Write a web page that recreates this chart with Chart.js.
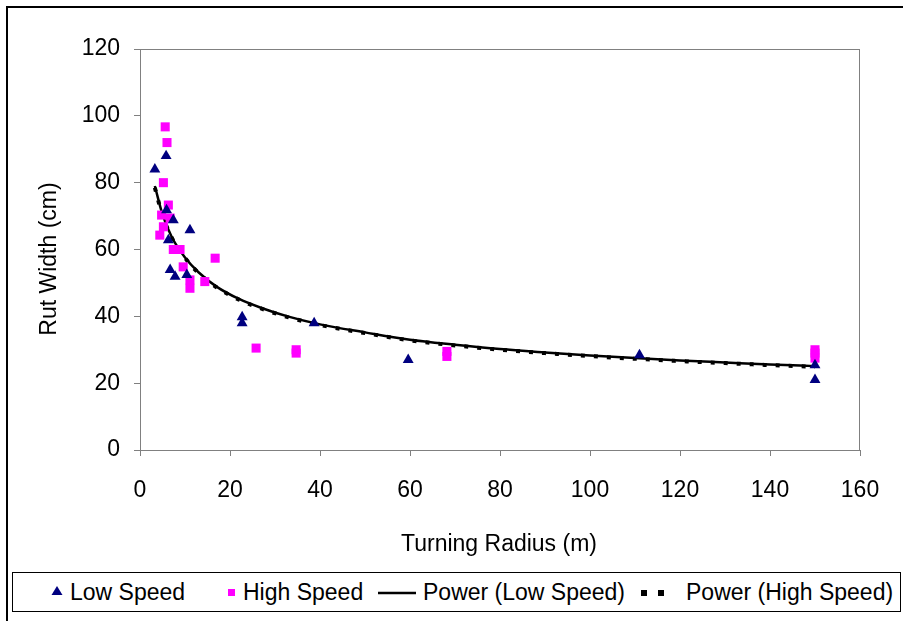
<!DOCTYPE html>
<html lang="en">
<head>
    <meta charset="UTF-8">
    <title>Rut Width vs Turning Radius</title>
    <script src="https://cdn.jsdelivr.net/npm/chart.js"></script>
    <style>
        body { margin: 0; background: #fff; font-family: "Liberation Sans", Arial, sans-serif; }
        #wrap { position: relative; width: 903px; height: 621px; overflow: hidden; }
        #frame { position: absolute; left: 6px; top: 6px; width: 920px; height: 640px; border: 2px solid #000; }
        canvas { position: absolute; left: 0; top: 0; }
        #legend { position: absolute; left: 12px; top: 572px; width: 887px; height: 38px; border: 1px solid #000; background: #fff; font-size: 23px; color: #000; }
        #legend span { position: absolute; top: 6px; white-space: nowrap; }
        #legend svg { position: absolute; top: 0; left: 0; }
    </style>
</head>
<body>
<div id="wrap">
    <div id="frame"></div>
    <canvas id="chart" width="903" height="621"></canvas>
    <div id="legend">
        <svg width="887" height="38">
            <polygon points="44,13 49.5,22 38.5,22" fill="#000080"/>
            <rect x="215" y="16" width="7" height="7" fill="#FF00FF"/>
            <line x1="365" y1="20" x2="403" y2="20" stroke="#000" stroke-width="2.5"/>
            <rect x="628" y="17" width="6" height="6" fill="#000"/>
            <rect x="645" y="17" width="6" height="6" fill="#000"/>
        </svg>
        <span style="left:57px">Low Speed</span>
        <span style="left:230px">High Speed</span>
        <span style="left:410px">Power (Low Speed)</span>
        <span style="left:673px">Power (High Speed)</span>
    </div>
</div>
<script>
    // scatter data
    const lowX = [3.3, 5.8, 5.9, 7.4, 11.1, 6.3, 6.7, 7.8, 10.4, 22.7, 22.7, 38.7, 59.6, 111, 150, 150];
    const lowY = [84, 88, 71.8, 68.8, 65.8, 62.8, 53.9, 51.9, 52.4, 39.8, 38, 38, 27, 28.4, 25.4, 21];

    const highX = [5.6, 6, 5.2, 6.3, 4.8, 6.7, 5.2, 4.4, 7.4, 8.9, 9.6, 11.1, 11.1, 14.4, 16.7, 25.8, 34.7, 34.7, 68.2, 68.2, 150, 150, 150];
    const highY = [96.7, 92, 80, 73.3, 70.3, 69.4, 66.8, 64.3, 60, 60, 54.8, 50.9, 48.4, 50.4, 57.4, 30.5, 30, 29, 29.5, 28, 30, 29, 27.5];

    // trend curves, points
    const trendX = [3.3, 5, 7, 10, 13, 17, 22, 27, 33, 40, 50, 60, 70, 80, 90, 100, 110, 120, 130, 140, 150];
    const trendLowY = [79, 70.5, 63.9, 57.6, 53.2, 48.9, 45.2, 42.5, 39.9, 37.6, 35.2, 33.0, 31.5, 30.2, 29.2, 28.3, 27.5, 26.8, 26.2, 25.6, 25.1];
    const trendHighY = [78.5, 70.2, 63.7, 57.5, 53.0, 48.7, 45.0, 42.3, 39.7, 37.4, 35.0, 32.8, 31.3, 30.0, 29.0, 28.1, 27.3, 26.6, 26.0, 25.4, 24.9];

    const xTicks = [0, 20, 40, 60, 80, 100, 120, 140, 160];
    const yTicks = [0, 20, 40, 60, 80, 100, 120];

    const pts = (xs, ys) => xs.map((x, i) => ({ x: x, y: ys[i] }));
    const fontFamily = '"Liberation Sans", Arial, sans-serif';
    const tickFont = { family: fontFamily, size: 23 };

    new Chart(document.getElementById('chart').getContext('2d'), {
        type: 'scatter',
        data: {
            datasets: [
                {
                    label: 'Power (High Speed)',
                    data: pts(trendX, trendHighY),
                    showLine: true,
                    borderColor: '#000',
                    borderWidth: 4,
                    borderDash: [4, 9],
                    pointRadius: 0,
                    cubicInterpolationMode: 'monotone',
                    order: 3
                },
                {
                    label: 'Power (Low Speed)',
                    data: pts(trendX, trendLowY),
                    showLine: true,
                    borderColor: '#000',
                    borderWidth: 2.5,
                    pointRadius: 0,
                    cubicInterpolationMode: 'monotone',
                    order: 2
                },
                {
                    label: 'High Speed',
                    data: pts(highX, highY),
                    pointStyle: 'rect',
                    pointRadius: 6.4,
                    backgroundColor: '#FF00FF',
                    borderColor: '#FF00FF',
                    borderWidth: 0,
                    order: 1
                },
                {
                    label: 'Low Speed',
                    data: pts(lowX, lowY),
                    pointStyle: 'triangle',
                    pointRadius: 6.3,
                    backgroundColor: '#000080',
                    borderColor: '#000080',
                    borderWidth: 0,
                    order: 0
                }
            ]
        },
        options: {
            responsive: false,
            animation: false,
            events: [],
            layout: { padding: { top: 49, right: 43, left: 0, bottom: 0 } },
            plugins: { legend: { display: false }, tooltip: { enabled: false } },
            scales: {
                x: {
                    type: 'linear',
                    min: 0, max: 160,
                    afterBuildTicks: s => { s.ticks = xTicks.map(v => ({ value: v })); },
                    afterFit: s => { s.height = 171; },
                    grid: { drawOnChartArea: false, color: '#808080', tickLength: 6, tickColor: '#808080' },
                    border: { color: '#808080', width: 1 },
                    ticks: { color: '#000', font: tickFont, padding: 21, maxRotation: 0 },
                    title: { display: false }
                },
                y: {
                    type: 'linear',
                    min: 0, max: 120,
                    afterBuildTicks: s => { s.ticks = yTicks.map(v => ({ value: v })); },
                    afterFit: s => { s.width = 140; },
                    grid: { drawOnChartArea: false, color: '#808080', tickLength: 6, tickColor: '#808080' },
                    border: { color: '#808080', width: 1 },
                    ticks: { color: '#000', font: tickFont, padding: 14 },
                    title: { display: false }
                }
            }
        },
        plugins: [{
            id: 'plotFrame',
            afterDraw(chart) {
                const { ctx, chartArea: a } = chart;
                ctx.save();
                ctx.strokeStyle = '#808080';
                ctx.lineWidth = 1;
                ctx.strokeRect(a.left + 0.5, a.top + 0.5, a.right - a.left - 1, a.bottom - a.top);
                // axis titles, placed where the original puts them
                ctx.fillStyle = '#000';
                ctx.font = '23px ' + fontFamily;
                ctx.textAlign = 'center';
                ctx.textBaseline = 'middle';
                ctx.fillText('Turning Radius (m)', 499, 545);
                ctx.translate(50, 259);
                ctx.rotate(-Math.PI / 2);
                ctx.fillText('Rut Width (cm)', 0, 0);
                ctx.restore();
            }
        }]
    });
</script>
</body>
</html>
